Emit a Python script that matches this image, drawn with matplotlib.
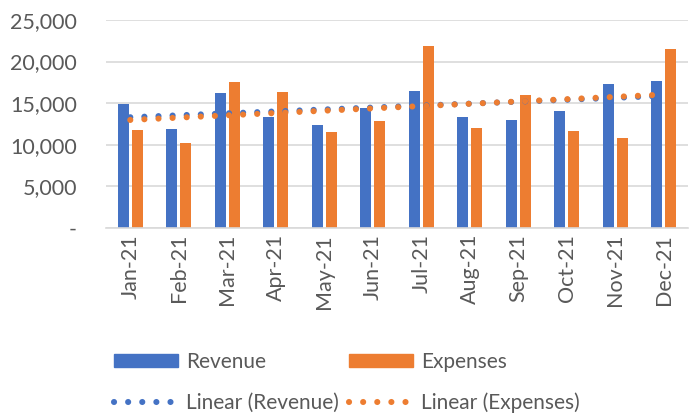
import numpy as np
import matplotlib
matplotlib.use("Agg")
import matplotlib.pyplot as plt
from matplotlib.patches import Patch
from matplotlib.lines import Line2D
from matplotlib.ticker import FuncFormatter

months = ["Jan-21", "Feb-21", "Mar-21", "Apr-21", "May-21", "Jun-21",
          "Jul-21", "Aug-21", "Sep-21", "Oct-21", "Nov-21", "Dec-21"]
revenue = [14900, 11890, 16230, 13340, 12370, 14420,
           16510, 13340, 12980, 14060, 17310, 17640]
expenses = [11770, 10200, 17550, 16350, 11530, 12820,
            21850, 12010, 15950, 11690, 10770, 21490]

blue = "#4472C4"
orange = "#ED7D31"
grey_text = "#595959"
grid_col = "#D9D9D9"
fs = 15.5

plt.rcParams['font.family'] = ['Lato', 'DejaVu Sans']

fig = plt.figure(figsize=(6.89, 4.17), dpi=100)
ax = fig.add_axes([106 / 689, 1 - 227.7 / 417, 582 / 689, (227.7 - 20) / 417])

x = np.arange(len(months))
w = 0.23
off = 0.144
ax.bar(x - off, revenue, w, color=blue, zorder=2)
ax.bar(x + off, expenses, w, color=orange, zorder=2)

# linear trendlines like Excel
dots = (0, (0.01, 2.3))
for vals, col in [(revenue, blue), (expenses, orange)]:
    k, b = np.polyfit(x, vals, 1)
    ax.plot(x, k * x + b, color=col, lw=4.4, linestyle=dots,
            dash_capstyle='round', zorder=3)

ax.set_xlim(-0.5, len(months) - 0.5)
ax.set_ylim(0, 25000)
ax.set_yticks(range(0, 25001, 5000))
ax.yaxis.set_major_formatter(FuncFormatter(lambda v, p: "-" if v == 0 else f"{int(v):,}"))
ax.set_xticks(x)
ax.set_xticklabels(months, rotation=90)
ax.tick_params(axis='both', length=0, labelsize=fs, colors=grey_text)
ax.tick_params(axis='y', pad=21)
ax.tick_params(axis='x', pad=4.5)

ax.grid(axis='y', color=grid_col, lw=1.2, zorder=0)
for s in ['top', 'right', 'left']:
    ax.spines[s].set_visible(False)
ax.spines['bottom'].set_color(grid_col)
ax.spines['bottom'].set_linewidth(1.2)

handles = [Patch(color=blue),
           Line2D([], [], color=blue, lw=4.4, linestyle=dots, dash_capstyle='round'),
           Patch(color=orange),
           Line2D([], [], color=orange, lw=4.4, linestyle=dots, dash_capstyle='round')]
labels = ["Revenue", "Linear (Revenue)", "Expenses", "Linear (Expenses)"]
leg = fig.legend(handles, labels, ncol=2, frameon=False, fontsize=15,
                 loc='upper left', bbox_to_anchor=(95 / 689, 1 - 333 / 417),
                 handlelength=3.1, handleheight=0.6, handletextpad=0.35,
                 labelspacing=1.0, columnspacing=0.5)
for t in leg.get_texts():
    t.set_color(grey_text)

fig.savefig("out.png", dpi=100)
